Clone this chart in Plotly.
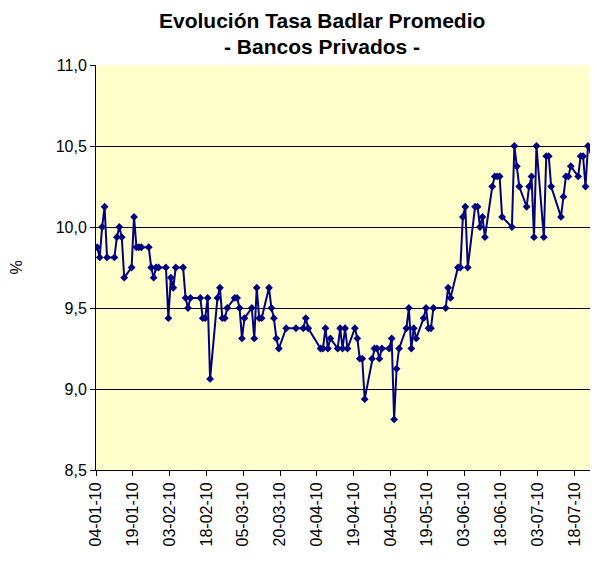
import plotly.graph_objects as go

# Tasa Badlar promedio, bancos privados (%), días hábiles 2010
fechas = [
    "2010-01-04", "2010-01-05", "2010-01-06", "2010-01-07", "2010-01-08",
    "2010-01-11", "2010-01-12", "2010-01-13", "2010-01-14", "2010-01-15",
    "2010-01-18", "2010-01-19", "2010-01-20", "2010-01-21", "2010-01-22",
    "2010-01-25", "2010-01-26", "2010-01-27", "2010-01-28", "2010-01-29",
    "2010-02-01", "2010-02-02", "2010-02-03", "2010-02-04", "2010-02-05",
    "2010-02-08", "2010-02-09", "2010-02-10", "2010-02-11",
    "2010-02-15", "2010-02-16", "2010-02-17", "2010-02-18", "2010-02-19",
    "2010-02-22", "2010-02-23", "2010-02-24", "2010-02-25", "2010-02-26",
    "2010-03-01", "2010-03-02", "2010-03-03", "2010-03-04", "2010-03-05",
    "2010-03-08", "2010-03-09", "2010-03-10", "2010-03-11", "2010-03-12",
    "2010-03-15", "2010-03-16", "2010-03-17", "2010-03-18", "2010-03-19",
    "2010-03-22", "2010-03-26",
    "2010-03-29", "2010-03-30", "2010-03-31",
    "2010-04-05", "2010-04-06", "2010-04-07", "2010-04-08", "2010-04-09",
    "2010-04-12", "2010-04-13", "2010-04-14", "2010-04-15", "2010-04-16",
    "2010-04-19", "2010-04-20", "2010-04-21", "2010-04-22", "2010-04-23",
    "2010-04-26", "2010-04-27", "2010-04-28", "2010-04-29", "2010-04-30",
    "2010-05-03", "2010-05-04", "2010-05-05", "2010-05-06", "2010-05-07",
    "2010-05-10", "2010-05-11", "2010-05-12", "2010-05-13", "2010-05-14",
    "2010-05-17", "2010-05-18", "2010-05-19", "2010-05-20", "2010-05-21",
    "2010-05-26", "2010-05-27", "2010-05-28",
    "2010-05-31", "2010-06-01", "2010-06-02", "2010-06-03", "2010-06-04",
    "2010-06-07", "2010-06-08", "2010-06-09", "2010-06-10", "2010-06-11",
    "2010-06-14", "2010-06-15", "2010-06-16", "2010-06-17", "2010-06-18",
    "2010-06-22", "2010-06-23", "2010-06-24", "2010-06-25",
    "2010-06-28", "2010-06-29", "2010-06-30", "2010-07-01", "2010-07-02",
    "2010-07-05", "2010-07-06", "2010-07-07", "2010-07-08",
    "2010-07-12", "2010-07-13", "2010-07-14", "2010-07-15", "2010-07-16",
    "2010-07-19", "2010-07-20", "2010-07-21", "2010-07-22", "2010-07-23",
    "2010-07-26", "2010-07-27", "2010-07-28",
]

tasa = [
    9.875, 9.8125, 10.0, 10.125, 9.8125,
    9.8125, 9.9375, 10.0, 9.9375, 9.6875,
    9.75, 10.0625, 9.875, 9.875, 9.875,
    9.875, 9.75, 9.6875, 9.75, 9.75,
    9.75, 9.4375, 9.6875, 9.625, 9.75,
    9.75, 9.5625, 9.5, 9.5625,
    9.5625, 9.4375, 9.4375, 9.5625, 9.0625,
    9.5625, 9.625, 9.4375, 9.4375, 9.5,
    9.5625, 9.5625, 9.5, 9.3125, 9.4375,
    9.5, 9.3125, 9.625, 9.4375, 9.4375,
    9.625, 9.5, 9.4375, 9.3125, 9.25,
    9.375, 9.375,
    9.375, 9.4375, 9.375,
    9.25, 9.25, 9.375, 9.25, 9.3125,
    9.25, 9.375, 9.25, 9.375, 9.25,
    9.375, 9.3125, 9.1875, 9.1875, 8.9375,
    9.1875, 9.25, 9.25, 9.1875, 9.25,
    9.25, 9.3125, 8.8125, 9.125, 9.25,
    9.375, 9.5, 9.25, 9.375, 9.3125,
    9.4375, 9.5, 9.375, 9.375, 9.5,
    9.5, 9.625, 9.5625,
    9.75, 9.75, 10.0625, 10.125, 9.75,
    10.125, 10.125, 10.0, 10.0625, 9.9375,
    10.25, 10.3125, 10.3125, 10.3125, 10.0625,
    10.0, 10.5, 10.375, 10.25,
    10.125, 10.25, 10.3125, 9.9375, 10.5,
    9.9375, 10.4375, 10.4375, 10.25,
    10.0625, 10.1875, 10.3125, 10.3125, 10.375,
    10.3125, 10.4375, 10.4375, 10.25, 10.5,
    10.375, 10.5, 10.0,
]

y_ticks = [8.5, 9.0, 9.5, 10.0, 10.5, 11.0]

fuente = "Arial, Liberation Sans, sans-serif"

fig = go.Figure()
fig.add_trace(go.Scatter(
    x=fechas, y=tasa,
    mode="lines+markers",
    xperiod=86400000, xperiodalignment="middle",
    line=dict(color="#000080", width=2),
    marker=dict(symbol="diamond", size=6, color="#000080"),
    showlegend=False,
))

fig.update_layout(
    width=590, height=547,
    margin=dict(l=88, r=0, t=57, b=85),
    paper_bgcolor="white",
    plot_bgcolor="#FFFFCC",
    separators=",.",
    font=dict(family=fuente, size=16, color="black"),
    annotations=[
        dict(text="<b>Evolución Tasa Badlar Promedio</b>", xref="paper", yref="paper",
             x=0.45, y=1.109, xanchor="center", yanchor="middle", showarrow=False,
             borderpad=0, font=dict(size=21)),
        dict(text="<b>- Bancos Privados -</b>", xref="paper", yref="paper",
             x=0.45, y=1.045, xanchor="center", yanchor="middle", showarrow=False,
             borderpad=0, font=dict(size=21)),
    ],
)

fig.update_xaxes(
    type="date",
    range=["2010-01-04", "2010-07-27 14:00"],
    tick0="2010-01-04", dtick=15 * 86400000,
    tickformat="%d-%m-%y", tickangle=-90,
    ticks="outside", ticklen=5, tickcolor="black",
    showline=True, linecolor="black", linewidth=1,
    showgrid=False, zeroline=False,
)

fig.update_yaxes(
    range=[8.5, 11.0],
    tickvals=y_ticks, tickformat=".1f",
    ticks="outside", ticklen=5, tickcolor="black",
    showline=True, linecolor="black", linewidth=1,
    showgrid=True, gridcolor="black", gridwidth=1,
    zeroline=False,
    title=dict(text="%", standoff=36, font=dict(size=16)),
)

fig.write_html("out.html")
